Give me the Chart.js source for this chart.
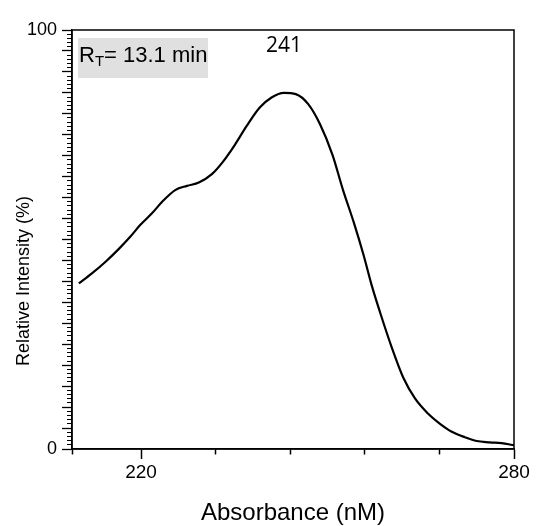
<!DOCTYPE html>
<html>
<head>
<meta charset="utf-8">
<script src="https://cdn.jsdelivr.net/npm/chart.js@4.4.1/dist/chart.umd.min.js"></script>
<style>
    html, body { margin: 0; padding: 0; background: #fff; }
</style>
</head>
<body>
<canvas id="spectrumChart" width="536" height="526"></canvas>
<script>
// spectrum
const wavelengths = [210.0, 212.1, 214.3, 216.4, 218.3, 219.9, 221.8, 223.4, 225.5, 227.4,
    229.3, 231.4, 233.2, 235.1, 237.0, 239.1, 241.0, 243.0, 244.9, 246.9,
    248.8, 250.8, 252.5, 254.2, 255.8, 257.1, 258.5, 260.3, 262.2, 264.1,
    266.2, 268.1, 270.0, 272.1, 274.0, 276.1, 278.0, 280.0];
const intensities = [39.5, 41.9, 44.7, 47.7, 50.7, 53.5, 56.3, 59.0, 61.8, 62.8,
    63.6, 65.6, 68.6, 72.6, 77.1, 81.5, 83.9, 85.0, 84.7, 82.3,
    77.5, 70.2, 61.8, 54.2, 46.3, 39.1, 32.4, 24.4, 17.0, 12.0,
    8.4, 6.0, 4.1, 2.8, 1.9, 1.6, 1.4, 0.9];

const xMin = 208.9;
const xMax = 280;
const xTicks = [208.9, 220, 232, 244, 256, 268, 280];
const xLabels = [220, 280];
const yLabels = [0, 100];
const peakText = '241';
const peakAt = 243.0;
const rtText = '= 13.1 min';

const sans = "'Liberation Sans', Arial, sans-serif";

const extras = {
    id: 'extras',
    afterDraw(chart) {
        const { ctx, chartArea: a } = chart;
        ctx.save();

        // box round the plot
        ctx.strokeStyle = '#000';
        ctx.lineWidth = 1.5;
        ctx.strokeRect(a.left, a.top, a.right - a.left, a.bottom - a.top);

        // y title
        ctx.fillStyle = '#000';
        ctx.font = '18px ' + sans;
        ctx.textAlign = 'center';
        ctx.textBaseline = 'middle';
        ctx.translate(24, 281);
        ctx.rotate(-Math.PI / 2);
        ctx.fillText('Relative Intensity (%)', 0, 0);
        ctx.setTransform(1, 0, 0, 1, 0, 0);

        // retention time box
        ctx.fillStyle = '#e0e0e0';
        ctx.fillRect(78, 38, 130, 40);
        ctx.fillStyle = '#000';
        ctx.textAlign = 'left';
        ctx.textBaseline = 'alphabetic';
        ctx.font = '22px ' + sans;
        let x = 79;
        ctx.fillText('R', x, 62);
        x += ctx.measureText('R').width;
        ctx.font = '15px ' + sans;
        ctx.fillText('T', x, 66);
        x += ctx.measureText('T').width;
        ctx.font = '22px ' + sans;
        ctx.fillText(rtText, x, 62);

        // peak label
        ctx.font = "21px 'Open Sans', sans-serif";
        ctx.textAlign = 'center';
        ctx.fillText(peakText, chart.scales.x.getPixelForValue(peakAt), 52);

        ctx.restore();
    }
};

new Chart(document.getElementById('spectrumChart'), {
    type: 'line',
    data: {
        datasets: [{
            data: wavelengths.map((w, i) => ({ x: w, y: intensities[i] })),
            borderColor: '#000',
            borderWidth: 2.2,
            pointRadius: 0,
            cubicInterpolationMode: 'monotone',
            fill: false
        }]
    },
    options: {
        responsive: false,
        animation: false,
        layout: { padding: { left: 0, top: 30, right: 22, bottom: 0 } },
        plugins: {
            legend: { display: false },
            tooltip: { enabled: false }
        },
        scales: {
            x: {
                type: 'linear',
                min: xMin,
                max: xMax,
                afterBuildTicks: s => { s.ticks = xTicks.map(v => ({ value: v })); },
                afterFit: s => { s.height = 77; },
                border: { color: '#000', width: 1.5 },
                grid: {
                    drawOnChartArea: false,
                    tickLength: 10,
                    tickColor: '#000',
                    tickWidth: 1.5,
                    tickBorderDash: c => (c.tick && xLabels.includes(c.tick.value)) ? [] : [5, 100]
                },
                ticks: {
                    autoSkip: false,
                    maxRotation: 0,
                    padding: 2,
                    color: '#000',
                    font: { family: sans, size: 19 },
                    callback: v => xLabels.includes(v) ? v : ''
                },
                title: {
                    display: true,
                    text: 'Absorbance (nM)',
                    color: '#000',
                    font: { family: sans, size: 24, lineHeight: 1 },
                    padding: { top: 0, bottom: 1 }
                }
            },
            y: {
                min: 0,
                max: 100,
                afterFit: s => { s.width = 72; },
                border: { color: '#000', width: 1.5 },
                grid: {
                    drawOnChartArea: false,
                    tickLength: 10,
                    tickColor: '#000',
                    tickWidth: c => (c.tick && c.tick.value % 5 === 0) ? 1.3 : 1,
                    tickBorderDash: c => (c.tick && c.tick.value % 5 === 0) ? [] : [0, 5, 5, 100]
                },
                ticks: {
                    stepSize: 1,
                    autoSkip: false,
                    maxTicksLimit: 200,
                    padding: 5,
                    color: '#000',
                    font: { family: sans, size: 18 },
                    callback: v => yLabels.includes(v) ? v : ''
                }
            }
        }
    },
    plugins: [extras]
});
</script>
</body>
</html>
